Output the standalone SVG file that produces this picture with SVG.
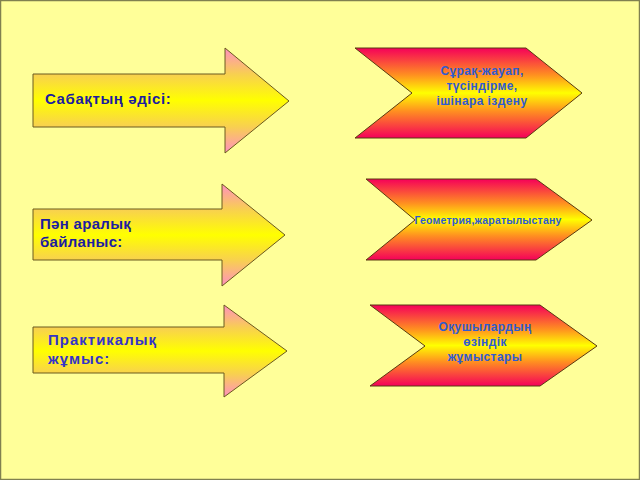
<svg xmlns="http://www.w3.org/2000/svg" width="640" height="480" viewBox="0 0 640 480">
<style>
.arr{fill:url(#gA);stroke:#6b5a1e;stroke-width:1}
.chv{fill:url(#gC);stroke:#5a3a10;stroke-width:1}
.lt{font-family:"Liberation Sans",Arial,sans-serif;font-weight:bold;font-size:15px;fill:#1c1ca0}
.ct{font-family:"Liberation Sans",Arial,sans-serif;font-weight:bold;font-size:12px;fill:#2f5bd0;text-anchor:middle;letter-spacing:0.4px}
</style>
<defs>
<linearGradient id="gA" x1="0" y1="0" x2="0" y2="1">
<stop offset="0" stop-color="#ff8fc0"/>
<stop offset="0.25" stop-color="#f8d050"/>
<stop offset="0.5" stop-color="#ffff00"/>
<stop offset="0.75" stop-color="#f8d050"/>
<stop offset="1" stop-color="#ff8fc0"/>
</linearGradient>
<linearGradient id="gC" x1="0" y1="0" x2="0" y2="1">
<stop offset="0" stop-color="#f5005a"/>
<stop offset="0.3" stop-color="#ff9020"/>
<stop offset="0.5" stop-color="#ffff00"/>
<stop offset="0.7" stop-color="#ff9020"/>
<stop offset="1" stop-color="#f5005a"/>
</linearGradient>
</defs>
<rect x="0.5" y="0.5" width="639" height="479" fill="#ffff99" stroke="#808050" stroke-width="1.5"/>
<g id="arrow1">
<polygon class="arr" points="33,74 225,74 225,48 289,101 225,153 225,127 33,127"/>
<text class="lt" x="45" y="104" style="letter-spacing:0.6px">Сабақтың әдісі:</text>
</g>
<g id="arrow2">
<polygon class="arr" points="33,209 222,209 222,184 285,235 222,286 222,260 33,260"/>
<text class="lt" x="40" y="229" style="letter-spacing:0.3px">Пән аралық</text>
<text class="lt" x="40" y="247" style="letter-spacing:0.3px">байланыс:</text>
</g>
<g id="arrow3">
<polygon class="arr" points="33,327 224,327 224,305 287,351 224,397 224,373 33,373"/>
<text class="lt" x="48" y="345" style="fill:#3333c8;letter-spacing:1px">Практикалық</text>
<text class="lt" x="48" y="364" style="fill:#3333c8;letter-spacing:1px">жұмыс:</text>
</g>
<g id="chevron1">
<polygon class="chv" points="355,48 526,48 582,93 526,138 355,138 412,93"/>
<text class="ct" x="482" y="75">Сұрақ-жауап,</text>
<text class="ct" x="482" y="90">түсіндірме,</text>
<text class="ct" x="482" y="105">ішінара іздену</text>
</g>
<g id="chevron2">
<polygon class="chv" points="366,179 536,179 592,220 536,260 366,260 415,220"/>
<text class="ct" x="488" y="224" style="font-size:10.5px;letter-spacing:0.2px">Геометрия,жаратылыстану</text>
</g>
<g id="chevron3">
<polygon class="chv" points="370,305 540,305 597,346 540,386 370,386 425,346"/>
<text class="ct" x="485" y="331">Оқушылардың</text>
<text class="ct" x="485" y="346">өзіндік</text>
<text class="ct" x="485" y="361">жұмыстары</text>
</g>
<g id="connectors"></g>
</svg>
